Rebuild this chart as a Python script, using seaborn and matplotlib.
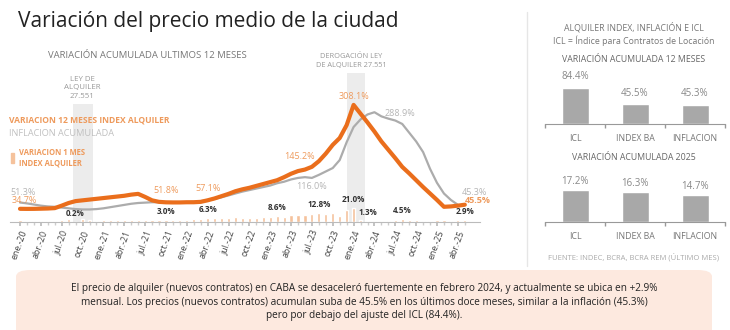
import numpy as np
import pandas as pd
import matplotlib
matplotlib.use("Agg")
import matplotlib.pyplot as plt
import seaborn as sns
from matplotlib.patches import FancyBboxPatch, Rectangle
from matplotlib.lines import Line2D

# ---------------- data ----------------
idx_12m = [34.7, 34.5, 34.6, 35.0, 35.5, 36.5, 43, 50, 55, 57, 59, 61,
           63, 65, 67, 69, 72, 74, 66, 57, 53, 51.8, 51.5, 51.5,
           52, 52, 53, 57.1, 62, 68, 74, 81, 86, 90, 95, 100,
           105, 110, 118, 127, 134, 138, 145.2, 160, 180, 203, 221, 255,
           308.1, 285, 262, 238, 212, 190, 168, 145, 128, 110, 92, 75,
           58, 40, 41, 43, 45.5]
infl_12m = [51.3, 49, 46, 43, 41, 40, 38, 36, 34, 33, 33, 34,
            36, 39, 42, 45, 48, 50, 51, 52, 52, 52, 51, 51,
            52, 53, 55, 57, 61, 65, 70, 75, 80, 84, 88, 92,
            96, 102, 106, 112, 116, 118, 116.0, 124, 133, 142, 163, 210,
            250, 270, 283, 288.9, 278, 272, 267, 258, 235, 212, 184, 140,
            103, 75, 58, 45.3, np.nan]
idx_1m = [2.5, 1.8, 1.2, 0.8, 1.5, 2.0, 3.5, 4.0, 0.2, 3.8, 2.5, 2.0,
          2.8, 2.5, 3.0, 3.2, 3.0, 3.4, 3.5, 3.6, 3.0, 3.0, 2.8, 3.2,
          3.5, 3.8, 4.5, 6.3, 5.5, 6.0, 6.5, 6.8, 6.5, 6.0, 6.2, 6.8,
          7.5, 8.6, 8.0, 10.0, 10.5, 10.8, 12.0, 12.8, 12.5, 13.0, 9.0, 18.0,
          21.0, 2.5, 1.3, 2.0, 1.8, 2.2, 3.0, 4.5, 3.5, 2.5, 2.2, 2.0,
          2.4, 2.6, 2.2, 2.5, 2.9]
tick_labels = ["ene.-20", "abr.-20", "jul.-20", "oct.-20",
               "ene.-21", "abr.-21", "jul.-21", "oct.-21",
               "ene.-22", "abr.-22", "jul.-22", "oct.-22",
               "ene.-23", "abr.-23", "jul.-23", "oct.-23",
               "ene.-24", "abr.-24", "jul.-24", "oct.-24",
               "ene.-25", "abr.-25"]
cats = ["ICL", "INDEX BA", "INFLACION"]
acum_12m = [84.4, 45.5, 45.3]
acum_2025 = [17.2, 16.3, 14.7]

# labelled points (month index)
orange_lbl = [(0, "34.7%"), (21, "51.8%"), (27, "57.1%"), (42, "145.2%"), (48, "308.1%")]
gray_lbl = [(0, "51.3%"), (42, "116.0%"), (51, "288.9%")]
bar_lbl = [8, 21, 27, 37, 43, 48, 50, 55, 64]

# ---------------- style ----------------
sns.set_theme(style="white")
plt.rcParams['font.family'] = ['Open Sans', 'DejaVu Sans']

ORANGE = "#ea6e1c"
ORANGE_T = "#ee9a5c"
GRAY = "#acacac"
GRAY_T = "#b5b5b5"
BAR_C = "#f5c29c"
DARK = "#333333"

W, H = 730, 330
fig = plt.figure(figsize=(W / 100, H / 100), dpi=100)
fig.patch.set_facecolor("white")


def fx(x):
    return x / W


def fy(y):
    return 1 - y / H


def rect(x0, y0, x1, y1):
    return [fx(x0), fy(y1), fx(x1) - fx(x0), (y1 - y0) / H]


n = len(idx_12m)
months = np.arange(n)
df = pd.DataFrame({"m": months, "idx": idx_12m, "infl": infl_12m, "m1": idx_1m})

# ---------------- main chart ----------------
TOP, BOT = 70, 222
ax = fig.add_axes(rect(10, TOP, 480, BOT))
ax2 = ax.twinx()
ax.set_zorder(ax2.get_zorder() + 1)
ax.patch.set_visible(False)

x0 = (10 - 20) / 6.95
x1 = (480 - 20) / 6.95
hgt = BOT - TOP
ymax_line = hgt / 0.38
ymax_bar = hgt / 0.667

# shaded periods
ax2.axvspan(7.6, 10.5, ymin=0, ymax=(BOT - 104) / hgt, color="#ececec", lw=0, zorder=0)
ax2.axvspan(47.0, 49.6, ymin=0, ymax=(BOT - 73) / hgt, color="#ececec", lw=0, zorder=0)

sns.barplot(data=df, x="m", y="m1", native_scale=True, color=BAR_C,
            width=0.45, ax=ax2, saturation=1, zorder=2)
ax2.set_ylim(0, ymax_bar)
ax2.set_xlim(x0, x1)
ax2.axis("off")

sns.lineplot(data=df, x="m", y="infl", color=GRAY, lw=1.6, ax=ax)
sns.lineplot(data=df, x="m", y="idx", color=ORANGE, lw=3.0, ax=ax)
ax.set_xlim(x0, x1)
ax.set_ylim(0, ymax_line)
ax.set_xlabel("")
ax.set_ylabel("")
ax.set_yticks([])
for s in ["top", "right", "left"]:
    ax.spines[s].set_visible(False)
ax.spines["bottom"].set_color("#bbbbbb")
ax.spines["bottom"].set_linewidth(0.8)
ax.set_xticks(np.arange(0, 64, 3))
ax.set_xticklabels(tick_labels, rotation=70, ha="right", rotation_mode="anchor",
                   fontsize=6.3, color="#444444")
ax.set_xticks(np.arange(0, n), minor=True)
ax.tick_params(axis="x", which="major", length=3, color="#bbbbbb", pad=2, bottom=True)
ax.tick_params(axis="x", which="minor", length=2, color="#cccccc", bottom=True)

# line labels
lbl_off = {0: (-6, 3, "left"), 21: (0, 5, "center"), 27: (0, 5, "center"),
           42: (-9, 4, "center"), 48: (0, 3, "center")}
for m, t in orange_lbl:
    dx, dy, ha = lbl_off[m]
    ax.annotate(t, (m, idx_12m[m]), xytext=(dx, dy), textcoords="offset points",
                ha=ha, va="bottom", fontsize=6.5, color=ORANGE_T)
for m, t in gray_lbl:
    if m == 0:
        ax.annotate(t, (m, infl_12m[m]), xytext=(-7, 4), textcoords="offset points",
                    ha="left", va="bottom", fontsize=6.5, color=GRAY_T)
    elif m == 42:
        ax.annotate(t, (m, infl_12m[m]), xytext=(0, -3), textcoords="offset points",
                    ha="center", va="top", fontsize=6.5, color=GRAY_T)
    else:
        ax.annotate(t, (m, infl_12m[m]), xytext=(7, -1), textcoords="offset points",
                    ha="left", va="center", fontsize=6.5, color=GRAY_T)
ax.annotate(f"{infl_12m[63]:.1f}%", (63, infl_12m[63]), xytext=(3, 9),
            textcoords="offset points", ha="left", va="center", fontsize=6.5, color=GRAY_T)
ax.annotate(f"{idx_12m[64]:.1f}%", (64, idx_12m[64]), xytext=(0, 3),
            textcoords="offset points", ha="left", va="center", fontsize=6.5,
            color=ORANGE_T, fontweight="bold")
for m in bar_lbl:
    ax2.annotate(f"{idx_1m[m]:.1f}%", (m, idx_1m[m]), xytext=(0, 3),
                 textcoords="offset points", ha="center", va="bottom",
                 fontsize=5.8, color=DARK, fontweight="bold")

# ---------------- texts on main chart ----------------
fig.text(fx(18), fy(22), "Variación del precio medio de la ciudad", fontsize=15,
         color="#222222", va="center", ha="left")
fig.text(fx(48), fy(55), "VARIACIÓN ACUMULADA ULTIMOS 12 MESES", fontsize=6.8,
         color="#777777", va="center", ha="left")
fig.text(fx(82), fy(88), "LEY DE\nALQUILER\n27.551", fontsize=5.7, color="#999999",
         va="center", ha="center", linespacing=1.3)
fig.text(fx(351), fy(61), "DEROGACIÓN LEY\nDE ALQUILER 27.551", fontsize=5.3,
         color="#999999", va="center", ha="center", linespacing=1.2)
fig.text(fx(9), fy(120), "VARIACION 12 MESES INDEX ALQUILER", fontsize=6.1,
         color=ORANGE_T, va="center", ha="left", fontweight="bold")
fig.text(fx(9), fy(133), "INFLACION ACUMULADA", fontsize=6.6,
         color="#c0c0c0", va="center", ha="left")
fig.text(fx(19), fy(158), "VARIACION 1 MES\nINDEX ALQUILER", fontsize=5.5,
         color=ORANGE_T, va="center", ha="left", fontweight="bold", linespacing=1.25)
fig.add_artist(Rectangle((fx(11), fy(163)), 3 / W, 10 / H, color=BAR_C,
                         transform=fig.transFigure))

# divider
fig.add_artist(Line2D([fx(527), fx(527)], [fy(12), fy(266)], color="#e6e6e6", lw=1,
                      transform=fig.transFigure))

# ---------------- right panel ----------------
fig.text(fx(634), fy(34), "ALQUILER INDEX, INFLACIÓN E ICL\nICL = Índice para Contratos de Locación",
         fontsize=6.3, color="#777777", ha="center", va="center", linespacing=1.3)
fig.text(fx(634), fy(59), "VARIACIÓN ACUMULADA 12 MESES", fontsize=6.3, color="#666666",
         ha="center", va="center")
fig.text(fx(634), fy(158), "VARIACIÓN ACUMULADA 2025", fontsize=6.3, color="#666666",
         ha="center", va="center")
fig.text(fx(634), fy(257), "FUENTE: INDEC, BCRA, BCRA REM (ÚLTIMO MES)", fontsize=5.5,
         color="#aaaaaa", ha="center", va="center")


def bar_panel(box, vals, ymax, off):
    bx = fig.add_axes(rect(*box))
    bdf = pd.DataFrame({"cat": cats, "v": vals})
    sns.barplot(data=bdf, x="cat", y="v", color="#a8a8a8", saturation=1,
                width=0.45, ax=bx)
    bx.set_ylim(0, ymax)
    bx.set_xlim(-0.5, 2.5)
    bx.set_xlabel("")
    bx.set_ylabel("")
    bx.set_yticks([])
    for s in ["top", "right", "left"]:
        bx.spines[s].set_visible(False)
    bx.spines["bottom"].set_color("#999999")
    bx.spines["bottom"].set_linewidth(0.8)
    bx.set_xticks([0, 1, 2])
    bx.set_xticklabels(cats, fontsize=6.3, color="#777777")
    bx.tick_params(axis="x", length=0, pad=7)
    bx.set_xticks([-0.5, 0.5, 1.5, 2.5], minor=True)
    bx.tick_params(axis="x", which="minor", length=3, color="#999999", bottom=True)
    for i, v in enumerate(vals):
        bx.annotate(f"{v:.1f}%", (i, v), xytext=(0, off), textcoords="offset points",
                    ha="center", va="bottom", fontsize=7, color="#888888")
    return bx


bar_panel((545, 80, 725, 124), acum_12m, 44 / 0.43, 4)
bar_panel((545, 178, 725, 222), acum_2025, 44 / 1.86, 2)

# ---------------- bottom note ----------------
fig.add_artist(FancyBboxPatch((fx(16), fy(340)), (712 - 16) / W, (340 - 270) / H,
                              boxstyle="round,pad=0,rounding_size=0.02",
                              facecolor="#fde9df", edgecolor="none",
                              transform=fig.transFigure, zorder=0))
note = ("El precio de alquiler (nuevos contratos) en CABA se desaceleró fuertemente en febrero 2024, "
        "y actualmente se ubica en +2.9%\nmensual. Los precios (nuevos contratos) acumulan suba de 45.5% "
        "en los últimos doce meses, similar a la inflación (45.3%)\npero por debajo del ajuste del ICL (84.4%).")
fig.text(fx(364), fy(302), note, fontsize=7.2, color="#222222", ha="center", va="center",
         linespacing=1.35)

fig.savefig("out.png", dpi=100)
